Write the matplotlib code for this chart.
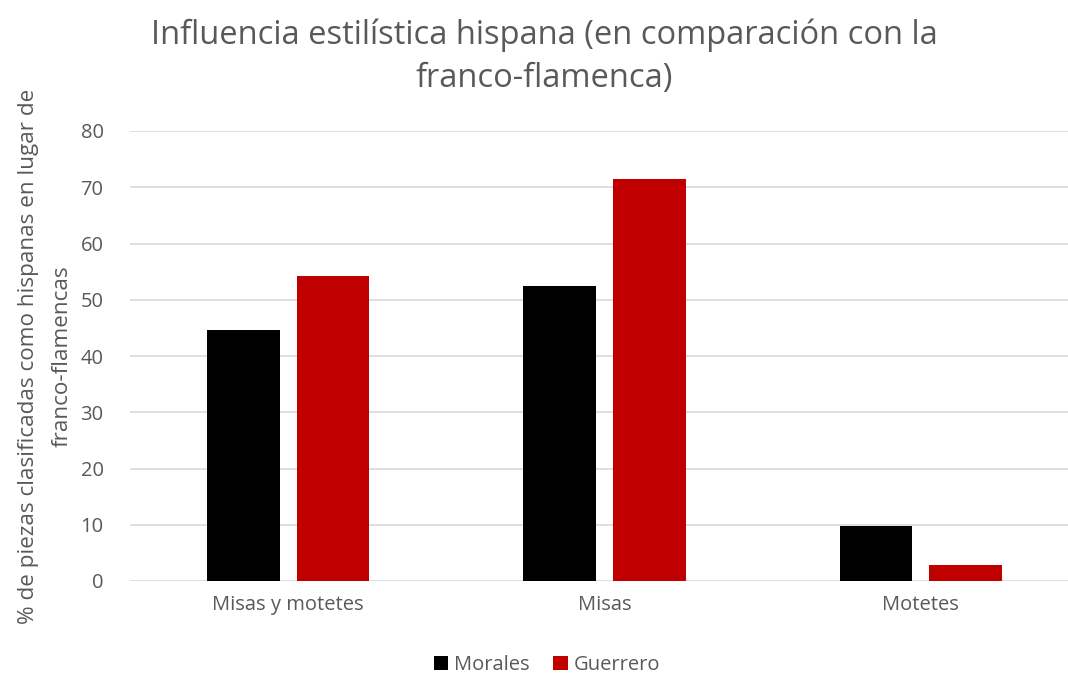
import matplotlib
matplotlib.use("Agg")
import matplotlib.pyplot as plt
import numpy as np

categories = ["Misas y motetes", "Misas", "Motetes"]
morales = [44.6, 52.5, 9.8]
guerrero = [54.2, 71.4, 2.9]
yticks = [0, 10, 20, 30, 40, 50, 60, 70, 80]

plt.rcParams['font.family'] = ['Open Sans', 'DejaVu Sans']
grey = '#595959'

fig = plt.figure(figsize=(10.68, 6.75), dpi=100)
ax = fig.add_axes([130/1068, 1-581/675, (1068-130)/1068, 450/675])

x = np.arange(len(categories))
w = 0.23
off = 0.142
ax.bar(x - off, morales, w, color='black', label='Morales', zorder=3)
ax.bar(x + off, guerrero, w, color='#C00000', label='Guerrero', zorder=3)

ax.set_xlim(-0.5, 2.465)
ax.set_ylim(0, 80)
ax.set_yticks(yticks)
ax.yaxis.grid(True, color='#d9d9d9', linewidth=1.2, zorder=0)
for s in ax.spines.values():
    s.set_visible(False)
ax.tick_params(axis='both', length=0, labelsize=14.5, colors=grey, pad=10)
ax.tick_params(axis='y', pad=19)
ax.set_xticks(x)
ax.set_xticklabels(categories)

ax.set_ylabel("% de piezas clasificadas como hispanas en lugar de\nfranco-flamencas",
              fontsize=16.2, color=grey, labelpad=6, linespacing=1.75)

fig.text(0.51, 0.972, "Influencia estilística hispana (en comparación con la\nfranco-flamenca)",
         ha='center', va='top', fontsize=23.5, color=grey, linespacing=1.4)

leg = fig.legend(loc='center', bbox_to_anchor=(0.512, 1-665/675), ncol=2, frameon=False,
                 fontsize=14.5, handlelength=0.7, handleheight=0.7, columnspacing=1.2,
                 handletextpad=0.3)
for t in leg.get_texts():
    t.set_color(grey)

fig.savefig("out.png", dpi=100)
